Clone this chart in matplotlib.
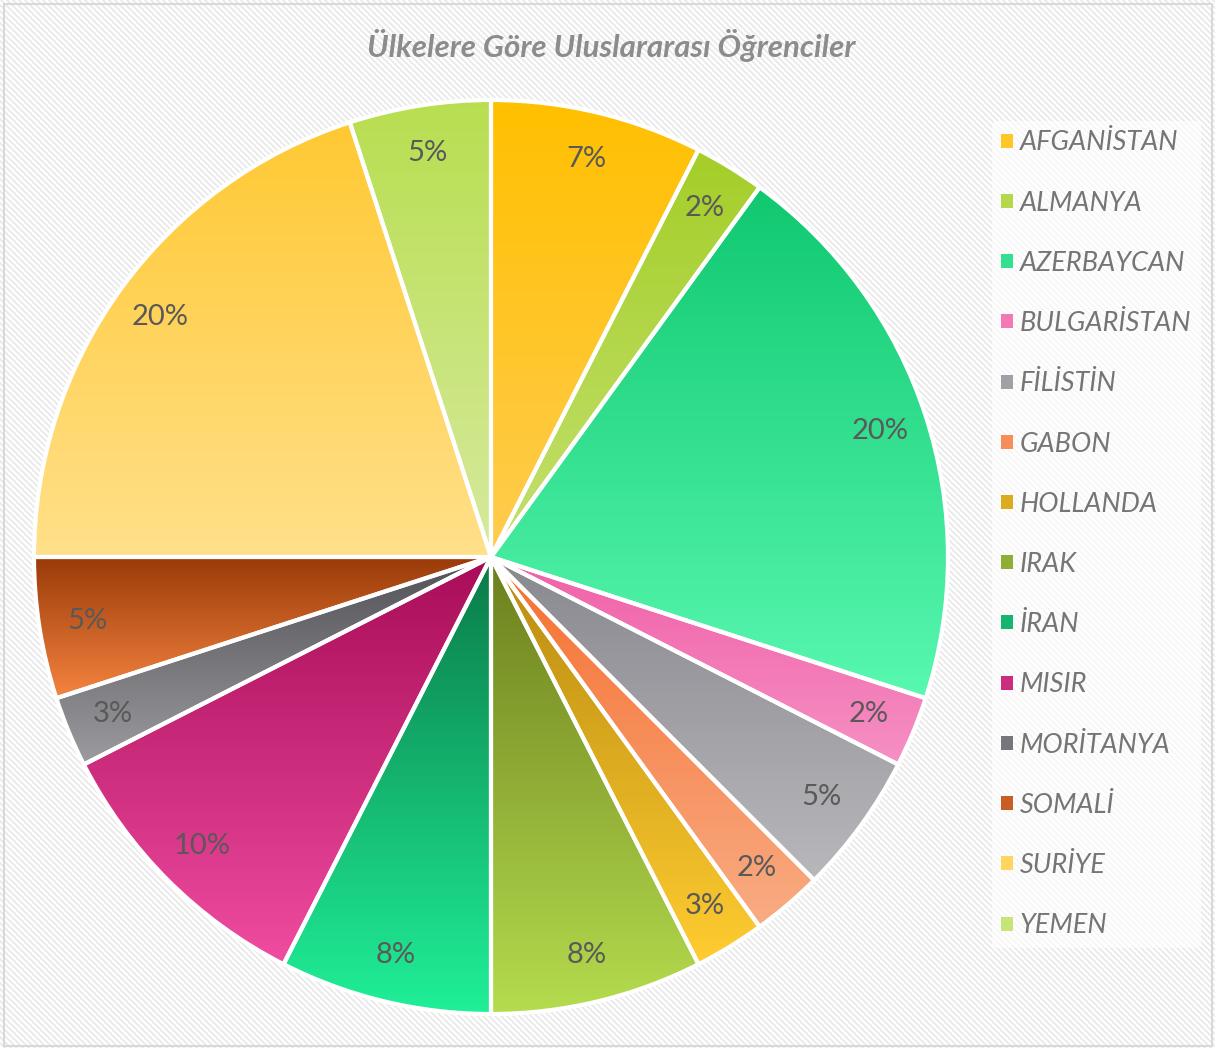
import matplotlib
matplotlib.use('Agg')
import matplotlib.pyplot as plt
import matplotlib.patches as patches
from matplotlib.colors import LinearSegmentedColormap
import numpy as np

plt.rcParams['font.family'] = ['Lato', 'DejaVu Sans']

# data
countries = ['AFGANİSTAN', 'ALMANYA', 'AZERBAYCAN', 'BULGARİSTAN', 'FİLİSTİN',
             'GABON', 'HOLLANDA', 'IRAK', 'İRAN', 'MISIR', 'MORİTANYA',
             'SOMALİ', 'SURİYE', 'YEMEN']
students = [3, 1, 8, 1, 2, 1, 1, 3, 3, 4, 1, 2, 8, 2]
pct_labels = ['7%', '2%', '20%', '2%', '5%', '2%', '3%', '8%', '8%',
              '10%', '3%', '5%', '20%', '5%']

# gradient colours (top, bottom) per slice
top_colors = ['#FFC000', '#A4CE28', '#10C870', '#F060A8', '#88888F',
              '#F57030', '#B88A10', '#6B7F1E', '#0A7A48', '#A80C58',
              '#505055', '#993A08', '#FFC933', '#B8DE50']
bottom_colors = ['#FFCC50', '#C4E070', '#58F8B0', '#F690C4', '#B8B8BC',
                 '#F9AC84', '#FFCC30', '#B5DC4E', '#20F098', '#F04CA0',
                 '#9C9CA0', '#F58440', '#FFE08A', '#D6EA9E']

W, H = 1215, 1048
fig = plt.figure(figsize=(W / 100, H / 100), dpi=100)

# striped background
bg = fig.add_axes([0, 0, 1, 1])
yy, xx = np.mgrid[0:H, 0:W]
stripes = ((xx - yy) % 6) < 3
img = np.where(stripes, 0.925, 1.0)
bg.imshow(img, cmap='gray', vmin=0, vmax=1, aspect='auto',
          interpolation='nearest', extent=(0, W, H, 0))
bg.add_patch(patches.Rectangle((4, 4), W - 7, H - 6, fill=False,
                               edgecolor='#D9D9D9', linewidth=1.5))
bg.set_xlim(0, W)
bg.set_ylim(H, 0)
bg.axis('off')

# pie axes: centre (491, 557) px, radius 457 px
cx, cy, r = 491, 557, 457
ax = fig.add_axes([(cx - r) / W, (H - cy - r) / H, 2 * r / W, 2 * r / H])

wedges, _ = ax.pie(students, startangle=90, counterclock=False, radius=1,
                   wedgeprops=dict(edgecolor='white', linewidth=3))

for i, w in enumerate(wedges):
    ext = w.get_path().get_extents(w.get_patch_transform())
    cmap = LinearSegmentedColormap.from_list('g%d' % i,
                                             [top_colors[i], bottom_colors[i]])
    grad = np.linspace(0, 1, 256).reshape(-1, 1)
    im = ax.imshow(grad, cmap=cmap, aspect='auto', origin='upper',
                   extent=(ext.x0, ext.x1, ext.y0, ext.y1), zorder=0.5,
                   interpolation='bilinear')
    im.set_clip_path(w)
    w.set_facecolor('none')
    w.set_zorder(1)

    mid = np.deg2rad((w.theta1 + w.theta2) / 2)
    ax.text(0.895 * np.cos(mid), 0.895 * np.sin(mid), pct_labels[i],
            ha='center', va='center', fontsize=21, color='#595959', zorder=3)

ax.set_xlim(-1, 1)
ax.set_ylim(-1, 1)
ax.set_aspect('auto')
ax.axis('off')

# title
fig.text(611 / W, 1 - 45 / H, 'Ülkelere Göre Uluslararası Öğrenciler',
         ha='center', va='center', fontsize=22.5, fontweight='bold',
         fontstyle='italic', color='#8C8C8C')

# legend
mid_colors = [LinearSegmentedColormap.from_list('m', [t, b])(0.5)
              for t, b in zip(top_colors, bottom_colors)]
handles = [patches.Patch(facecolor=c, edgecolor='none', label=n)
           for c, n in zip(mid_colors, countries)]
leg = fig.legend(handles=handles, loc='upper left',
                 bbox_to_anchor=(992 / W, 1 - 121 / H),
                 frameon=True, fontsize=19.5, labelspacing=1.3,
                 handlelength=0.42, handleheight=0.42, handletextpad=0.25,
                 borderpad=0.35, borderaxespad=0)
leg.get_frame().set_facecolor('white')
leg.get_frame().set_alpha(0.6)
leg.get_frame().set_edgecolor('none')
for t in leg.get_texts():
    t.set_color('#757575')
    t.set_fontstyle('italic')

fig.savefig('out.png', dpi=100)
